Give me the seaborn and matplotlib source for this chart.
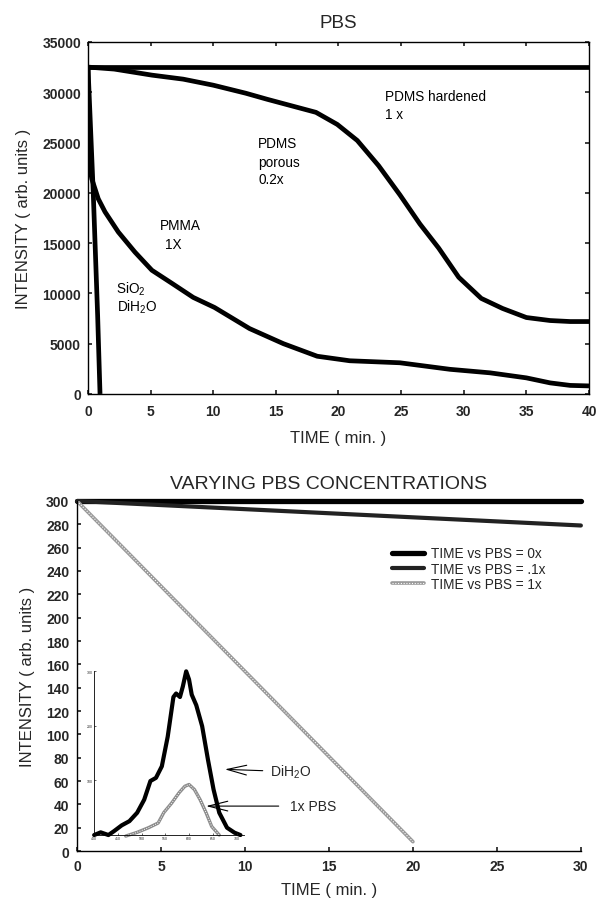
import numpy as np
import pandas as pd
import matplotlib
matplotlib.use("Agg")
import matplotlib.pyplot as plt
import seaborn as sns

sns.set_theme(style="ticks")
plt.rcParams["font.family"] = ["Liberation Sans", "DejaVu Sans"]
plt.rcParams["mathtext.fontset"] = "custom"
plt.rcParams["mathtext.rm"] = "Liberation Sans"

# ---------------- top panel: PBS (intensity in thousands)
hard_t = [0, 40]
hard_i = [32.5, 32.5]

porous_t = [0, 2.1, 5.1, 7.6, 10, 12.6, 14.3, 16.1, 18.2, 19.9, 21.5, 23.2,
            24.9, 26.5, 28.0, 29.6, 31.4, 33.1, 35.0, 36.9, 38.5, 40]
porous_i = [32.5, 32.3, 31.7, 31.3, 30.7, 29.9, 29.3, 28.7, 28.0, 26.8, 25.2,
            22.7, 19.8, 16.9, 14.5, 11.6, 9.5, 8.5, 7.6, 7.3, 7.2, 7.2]

pmma_t = [0, 0.03, 0.3, 0.82, 1.36, 2.42, 3.75, 5.1, 6.7, 8.4, 10.1, 12.9,
          15.6, 18.3, 20.9, 24.9, 28.9, 32.1, 35.0, 36.9, 38.5, 40]
pmma_i = [32.5, 23.4, 21.4, 19.4, 18.1, 16.1, 14.1, 12.3, 11.0, 9.6, 8.6,
          6.5, 5.0, 3.75, 3.3, 3.1, 2.45, 2.1, 1.6, 1.1, 0.85, 0.8]

sio2_t = [0, 0.42, 0.77, 0.96]
sio2_i = [32.5, 20.0, 7.8, 0.0]

# ---------------- bottom panel: varying PBS concentrations
conc_labels = ["TIME vs PBS = 0x", "TIME vs PBS = .1x", "TIME vs PBS = 1x"]
pbs0_t, pbs0_i = [0, 30], [300, 300]
pbs01_t, pbs01_i = [0, 30], [300, 279]
pbs1_t, pbs1_i = [0, 20], [300, 8]

# inset spectra, drawn in the main panel's coordinates
dih2o_x = [1.02, 1.41, 1.87, 2.2, 2.66, 3.12, 3.58, 4.0, 4.37, 4.7, 5.05,
           5.4, 5.74, 5.9, 6.13, 6.3, 6.5, 6.67, 6.83, 7.1, 7.45, 7.8,
           8.13, 8.47, 8.93, 9.38, 9.73]
dih2o_y = [13.7, 16, 13.7, 17, 22, 25.6, 32.8, 44, 60, 62.7, 72.6, 98, 132,
           135, 132, 141, 154, 147, 134, 125, 107, 78, 52.7, 32.8, 20, 15.7,
           13.7]
pbs_x = [2.9, 3.58, 4.26, 4.83, 5.17, 5.63, 6.08, 6.42, 6.67, 6.99, 7.33,
         7.68, 8.02, 8.47]
pbs_y = [12.8, 16, 20, 24, 33, 41, 50, 55.5, 57, 52.7, 44, 33, 21, 13.7]
inset_xticks = ["400", "450", "500", "550", "600", "650", "700"]
inset_yticks = ["", "100", "200", "300"]

fig = plt.figure(figsize=(5.97, 9.04), dpi=100)
ax1 = fig.add_axes([0.1474, 0.5631, 0.8392, 0.3894])
ax2 = fig.add_axes([0.129, 0.0575, 0.844, 0.3872])

LW = 3.4
for t, i in [(hard_t, hard_i), (porous_t, porous_i), (pmma_t, pmma_i),
             (sio2_t, sio2_i)]:
    sns.lineplot(x=t, y=np.array(i) * 1000, ax=ax1, color="black", lw=LW,
                 sort=False, solid_joinstyle="round", solid_capstyle="butt")

ax1.set_xlim(0, 40)
ax1.set_ylim(0, 35000)
ax1.set_xticks(range(0, 41, 5))
ax1.set_yticks(range(0, 35001, 5000))
ax1.tick_params(direction="in", top=True, right=True, length=3, labelsize=10)
ax1.tick_params(axis="y", pad=5)
ax1.tick_params(axis="x", pad=7)
for lab in ax1.get_xticklabels() + ax1.get_yticklabels():
    lab.set_fontweight("bold")
for s in ax1.spines.values():
    s.set_linewidth(1.0)
    s.set_color("black")
ax1.set_xlabel("TIME ( min. )", fontsize=12, labelpad=9)
ax1.set_ylabel("INTENSITY ( arb. units )", fontsize=12, labelpad=8)
ax1.set_title("PBS", fontsize=13.5, pad=11)

tk = dict(fontsize=9.8, color="black")
ax1.text(23.7, 29600, "PDMS hardened", va="center", **tk)
ax1.text(23.7, 27800, "1 x", va="center", **tk)
ax1.text(13.6, 25000, "PDMS", va="center", **tk)
ax1.text(13.6, 23100, "porous", va="center", **tk)
ax1.text(13.6, 21400, "0.2x", va="center", **tk)
ax1.text(5.7, 16800, "PMMA", va="center", **tk)
ax1.text(6.8, 14900, "1X", va="center", ha="center", **tk)
ax1.text(2.2, 10500, "SiO$_2$", va="center", **tk)
ax1.text(2.35, 8700, "DiH$_2$O", va="center", **tk)

# bottom panel
sns.lineplot(x=pbs0_t, y=pbs0_i, ax=ax2, color="black", lw=3.8, clip_on=False)
sns.lineplot(x=pbs01_t, y=pbs01_i, ax=ax2, color="#222222", lw=3.0,
             clip_on=False)
sns.lineplot(x=pbs1_t, y=pbs1_i, ax=ax2, color="#9a9a9a", lw=2.6)
sns.lineplot(x=pbs1_t, y=pbs1_i, ax=ax2, color="white", lw=0.8,
             linestyle=(0, (1, 1.5)))
h0, h01, h1, h1w = ax2.lines[:4]

sns.lineplot(x=dih2o_x, y=dih2o_y, ax=ax2, color="black", lw=3.0, sort=False,
             solid_joinstyle="round")
sns.lineplot(x=pbs_x, y=pbs_y, ax=ax2, color="#8c8c8c", lw=2.4, sort=False)
sns.lineplot(x=pbs_x, y=pbs_y, ax=ax2, color="white", lw=0.7,
             linestyle=(0, (1, 1.5)), sort=False)

ax2.set_xlim(0, 30)
ax2.set_ylim(0, 300)
ax2.set_xticks(range(0, 31, 5))
ax2.set_yticks(range(0, 301, 20))
ax2.tick_params(direction="in", length=3, labelsize=10)
ax2.tick_params(axis="y", pad=5.5)
ax2.tick_params(axis="x", pad=6)
for lab in ax2.get_xticklabels() + ax2.get_yticklabels():
    lab.set_fontweight("bold")
ax2.spines["top"].set_visible(False)
ax2.spines["right"].set_visible(False)
for s in ax2.spines.values():
    s.set_linewidth(1.0)
    s.set_color("black")
ax2.set_xlabel("TIME ( min. )", fontsize=12, labelpad=6)
ax2.set_ylabel("INTENSITY ( arb. units )", fontsize=12, labelpad=8)
ax2.set_title("VARYING PBS CONCENTRATIONS", fontsize=14, pad=9)

ax2.legend([h0, h01, (h1, h1w)], conc_labels, loc="upper left",
           bbox_to_anchor=(0.6, 0.905), frameon=False, fontsize=9.8,
           handlelength=2.4, handletextpad=0.5, labelspacing=0.1)

arrow = dict(arrowstyle="->,head_length=1.4,head_width=0.35", lw=0.8,
             color="black", shrinkB=0)
ax2.annotate("DiH$_2$O", xy=(8.8, 70), xytext=(11.5, 68), fontsize=10,
             va="center", arrowprops=dict(arrow, shrinkA=3))
ax2.annotate("1x PBS", xy=(7.68, 38.5), xytext=(12.7, 38.5), fontsize=10,
             va="center", arrowprops=dict(arrow, shrinkA=6))

# inset frame with its own (tiny, barely legible) scale
ins = ax2.inset_axes([1.02, 13.7, 8.9, 140.5], transform=ax2.transData)
ins.patch.set_alpha(0)
ins.set_xlim(0, 6.3)
ins.set_ylim(0, 3)
ins.set_xticks(range(len(inset_xticks)))
ins.set_xticklabels(inset_xticks)
ins.set_yticks(range(len(inset_yticks)))
ins.set_yticklabels(inset_yticks)
ins.tick_params(direction="in", length=1.5, width=0.5, labelsize=2.5, pad=1)
ins.spines["top"].set_visible(False)
ins.spines["right"].set_visible(False)
for s in ("left", "bottom"):
    ins.spines[s].set_linewidth(0.6)
    ins.spines[s].set_color("black")

fig.savefig("out.png", dpi=100)
